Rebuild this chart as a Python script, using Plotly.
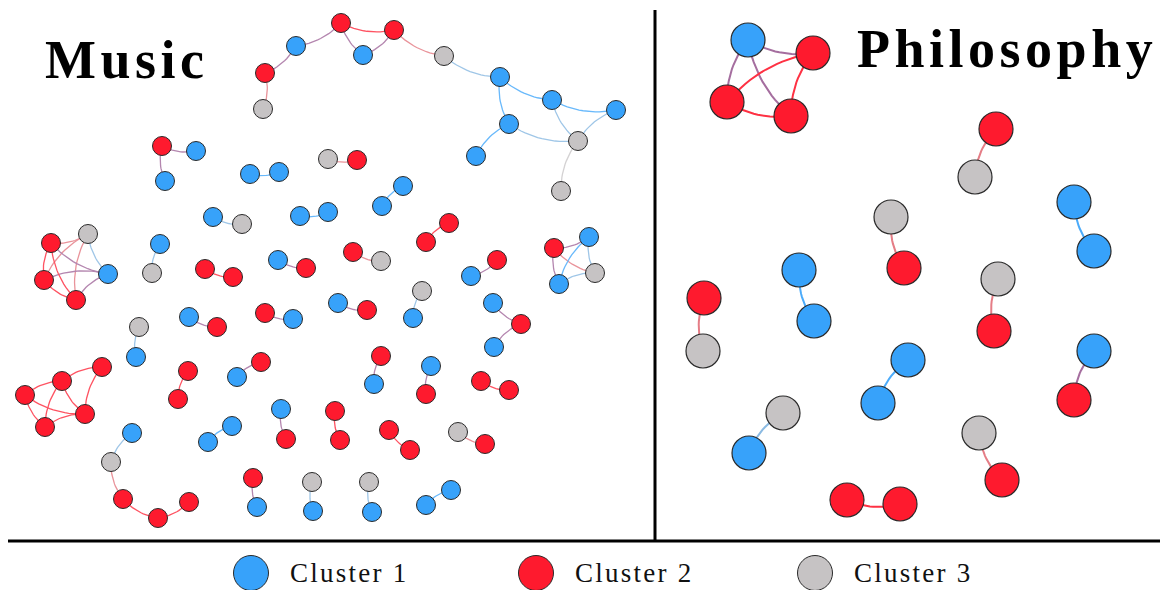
import plotly.graph_objects as go

# ---------------- data ----------------
cluster_names = ["Cluster 1", "Cluster 2", "Cluster 3"]
cluster_colors = {1: "#37A2FA", 2: "#FE1A2E", 3: "#C6C3C4"}

music_x = [263, 265, 296, 341, 363, 394, 444, 500, 552, 616, 509, 578, 476, 561,
           162, 196, 165, 250, 279, 328, 357, 403, 382, 213, 242, 300, 328, 449, 426,
           51, 88, 108, 44, 76, 160, 152, 205, 233, 278, 306, 353, 381, 471, 497,
           554, 589, 595, 559, 422, 413, 189, 217, 265, 293, 338, 367, 493, 521, 494,
           139, 136, 102, 62, 25, 85, 45, 188, 178, 261, 237, 381, 374, 431, 426,
           481, 509, 281, 286, 232, 208, 335, 340, 389, 410, 458, 485,
           132, 111, 123, 158, 189, 253, 257, 312, 313, 369, 372, 451, 426]
music_y = [109, 73, 46, 23, 55, 30, 56, 77, 100, 110, 124, 141, 156, 191,
           146, 151, 181, 174, 172, 159, 160, 186, 206, 217, 224, 216, 212, 223, 242,
           243, 234, 274, 280, 300, 244, 273, 269, 277, 260, 268, 252, 261, 276, 260,
           248, 237, 273, 284, 291, 318, 317, 327, 313, 319, 303, 310, 303, 324, 347,
           327, 357, 367, 381, 395, 414, 427, 371, 399, 362, 377, 356, 384, 366, 394,
           381, 390, 409, 439, 426, 442, 411, 440, 430, 450, 432, 444,
           433, 462, 499, 518, 502, 478, 507, 482, 511, 482, 512, 490, 505]
music_c = [3, 2, 1, 2, 1, 2, 3, 1, 1, 1, 1, 3, 1, 3,
           2, 1, 1, 1, 1, 3, 2, 1, 1, 1, 3, 1, 1, 2, 2,
           2, 3, 1, 2, 2, 1, 3, 2, 2, 1, 2, 2, 3, 1, 2,
           2, 1, 3, 1, 3, 1, 1, 2, 2, 1, 1, 2, 1, 2, 1,
           3, 1, 2, 2, 2, 2, 2, 2, 2, 2, 1, 2, 1, 1, 2,
           2, 2, 1, 2, 1, 1, 2, 2, 2, 2, 3, 2,
           1, 3, 2, 2, 2, 2, 1, 3, 1, 3, 1, 1, 1]
music_edges = [(0, 1), (1, 2), (2, 3), (3, 5), (3, 4), (4, 5), (5, 6), (6, 7), (7, 8), (7, 10),
               (8, 9), (8, 11), (9, 11), (10, 11), (10, 12), (11, 13),
               (14, 15), (14, 16), (17, 18), (19, 20), (21, 22), (23, 24), (25, 26), (27, 28),
               (29, 30), (29, 31), (29, 32), (29, 33), (30, 31), (30, 32), (30, 33), (31, 32),
               (31, 33), (32, 33),
               (34, 35), (36, 37), (38, 39), (40, 41), (42, 43),
               (44, 45), (44, 46), (44, 47), (45, 46), (45, 47), (46, 47),
               (48, 49), (50, 51), (52, 53), (54, 55), (56, 57), (57, 58), (59, 60),
               (61, 62), (61, 64), (62, 63), (62, 64), (62, 65), (63, 64), (63, 65), (64, 65),
               (66, 67), (68, 69), (70, 71), (72, 73), (74, 75), (76, 77), (78, 79), (80, 81),
               (82, 83), (84, 85), (86, 87), (87, 88), (88, 89), (89, 90), (91, 92), (93, 94),
               (95, 96), (97, 98)]

phil_x = [748, 813, 727, 791, 996, 975, 891, 904, 1074, 1094, 799, 814, 998, 994,
          704, 703, 908, 878, 1094, 1074, 783, 749, 979, 1002, 847, 900]
phil_y = [40, 53, 102, 116, 129, 177, 217, 268, 202, 251, 270, 321, 279, 331,
          298, 351, 360, 403, 351, 400, 413, 453, 433, 480, 500, 504]
phil_c = [1, 2, 2, 2, 2, 3, 3, 2, 1, 1, 1, 1, 3, 2,
          2, 3, 1, 1, 1, 2, 3, 1, 3, 2, 2, 2]
phil_edges = [(0, 1), (0, 2), (0, 3), (1, 2), (1, 3), (2, 3),
              (4, 5), (6, 7), (8, 9), (10, 11), (12, 13), (14, 15), (16, 17),
              (18, 19), (20, 21), (22, 23), (24, 25)]

panel_titles = ["Music", "Philosophy"]

# ---------------- helpers ----------------
def hex_rgb(h):
    h = h.lstrip("#")
    return tuple(int(h[i:i + 2], 16) for i in (0, 2, 4))


def edge_color(c1, c2, lighten):
    a = hex_rgb(cluster_colors[c1])
    b = hex_rgb(cluster_colors[c2])
    m = [(p + q) / 2 for p, q in zip(a, b)]
    m = [v + (255 - v) * lighten for v in m]
    return "rgb(%d,%d,%d)" % tuple(round(v) for v in m)


def curve(x0, y0, x1, y1, bend=0.18, n=16):
    dx, dy = x1 - x0, y1 - y0
    cx = (x0 + x1) / 2 - dy * bend
    cy = (y0 + y1) / 2 + dx * bend
    xs, ys = [], []
    for i in range(n + 1):
        t = i / n
        xs.append((1 - t) ** 2 * x0 + 2 * (1 - t) * t * cx + t ** 2 * x1)
        ys.append((1 - t) ** 2 * y0 + 2 * (1 - t) * t * cy + t ** 2 * y1)
    return xs, ys


def add_edges(fig, X, Y, C, edges, width, lighten):
    groups = {}
    for a, b in edges:
        key = tuple(sorted((C[a], C[b])))
        xs, ys = curve(X[a], Y[a], X[b], Y[b])
        g = groups.setdefault(key, ([], []))
        g[0].extend(xs + [None])
        g[1].extend(ys + [None])
    for key, (xs, ys) in groups.items():
        fig.add_trace(go.Scatter(x=xs, y=ys, mode="lines", hoverinfo="skip",
                                 line=dict(color=edge_color(*key, lighten), width=width),
                                 showlegend=False))


def add_nodes(fig, X, Y, C, size, lw):
    fig.add_trace(go.Scatter(x=X, y=Y, mode="markers", hoverinfo="skip", showlegend=False,
                             marker=dict(size=size, color=[cluster_colors[c] for c in C],
                                         line=dict(color="#2a2a2a", width=lw), opacity=1)))


fig = go.Figure()
add_edges(fig, music_x, music_y, music_c, music_edges, 1.3, 0.25)
add_nodes(fig, music_x, music_y, music_c, 19, 1)
add_edges(fig, phil_x, phil_y, phil_c, phil_edges, 2.0, 0.1)
add_nodes(fig, phil_x, phil_y, phil_c, 34, 1.2)

# legend (drawn in plot space)
leg_x = [251, 536, 815]
leg_y = 573
fig.add_trace(go.Scatter(x=leg_x, y=[leg_y] * 3, mode="markers", hoverinfo="skip",
                         showlegend=False,
                         marker=dict(size=35, color=[cluster_colors[k] for k in (1, 2, 3)],
                                     line=dict(color="#2a2a2a", width=1))))

hair = "\u200a"
annotations = []
for lx, name in zip(leg_x, cluster_names):
    annotations.append(dict(x=lx + 37, y=leg_y, xref="x", yref="y", xanchor="left",
                            yanchor="middle", showarrow=False,
                            text=hair.join(name),
                            font=dict(family="Liberation Serif", size=27, color="#111")))

annotations.append(dict(x=43, y=60, xref="x", yref="y", xanchor="left", yanchor="middle",
                        showarrow=False, text="<b>" + hair.join(panel_titles[0]) + "</b>",
                        font=dict(family="Liberation Serif", size=54, color="black")))
annotations.append(dict(x=855, y=49, xref="x", yref="y", xanchor="left", yanchor="middle",
                        showarrow=False, text="<b>" + hair.join(panel_titles[1]) + "</b>",
                        font=dict(family="Liberation Serif", size=54, color="black")))

shapes = [
    dict(type="line", xref="x", yref="y", x0=655, x1=655, y0=10, y1=541,
         line=dict(color="black", width=3)),
    dict(type="line", xref="x", yref="y", x0=8, x1=1160, y0=541, y1=541,
         line=dict(color="black", width=3)),
]

fig.update_layout(
    width=1162, height=590, margin=dict(l=0, r=0, t=0, b=0),
    paper_bgcolor="white", plot_bgcolor="white",
    xaxis=dict(range=[0, 1162], visible=False, fixedrange=True),
    yaxis=dict(range=[590, 0], visible=False, fixedrange=True),
    annotations=annotations, shapes=shapes, showlegend=False,
)

fig.write_html("out.html", config={"displayModeBar": False},
               post_script="document.body.style.margin='0';document.body.style.overflow='hidden';")
